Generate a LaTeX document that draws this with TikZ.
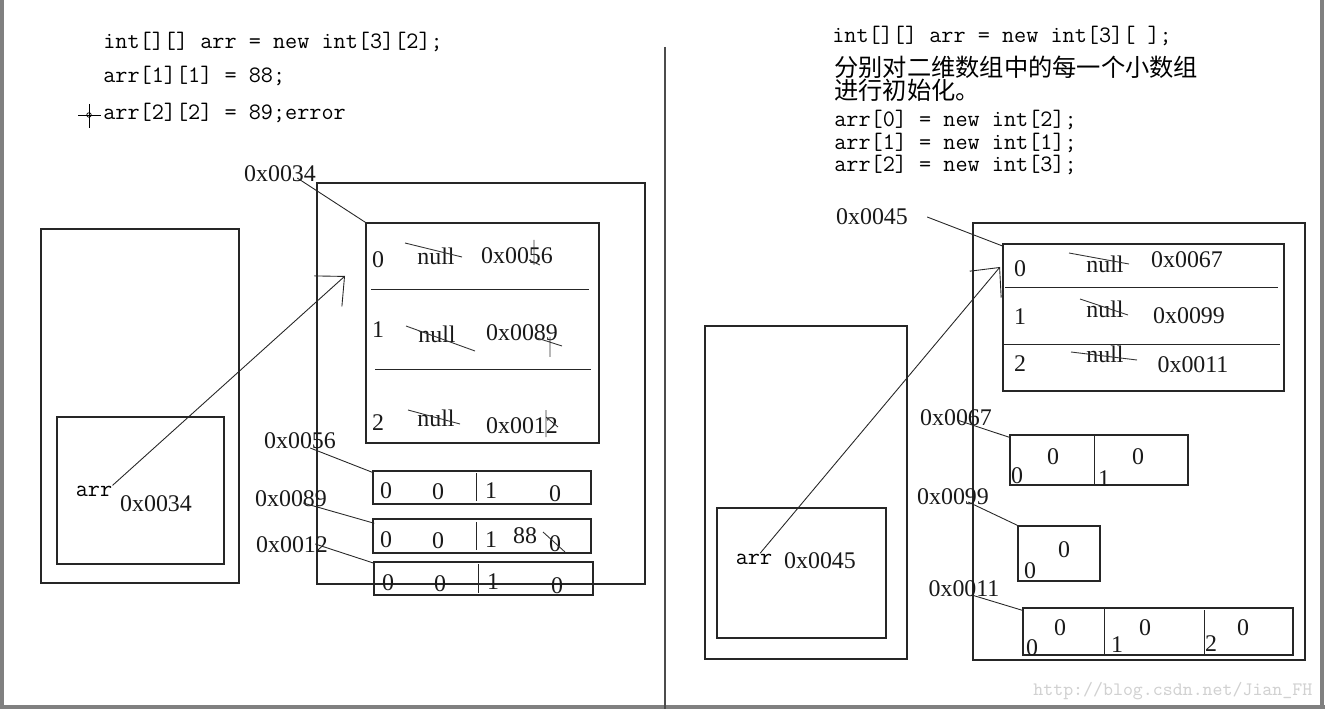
\documentclass[tikz,border=0pt]{standalone}
\usepackage{fontspec}
\setmainfont{Liberation Serif}
\newfontfamily\codefont{Latin Modern Mono}
\newfontfamily\cjkfont{Noto Sans CJK SC}
\usetikzlibrary{arrows.meta,fit,calc}

\begin{document}
\begin{tikzpicture}[x=0.02cm, y=-0.02cm,
    box/.style={draw=black!85, line width=0.8pt, inner sep=0pt, fit={#1}},
    num/.style={font=\fontsize{13.6}{16}\selectfont, inner sep=0pt, text=black!90},
    code/.style={font=\codefont\fontsize{13.4}{15}\selectfont, anchor=base west, inner sep=0pt},
    cjk/.style={font=\cjkfont\fontsize{13.8}{16}\selectfont, anchor=base west, inner sep=0pt},
    link/.style={draw=black!85, line width=0.5pt},
    ptr/.style={link, -{Straight Barb[length=0.44cm, width=0.82cm]}},
    scrawl/.style={black!80, line width=0.5pt},
    rim/.style={draw=black!50, line width=1.8pt}]
    \useasboundingbox (0,0) rectangle (1325,709);
    \fill[white] (0,0) rectangle (1325,709);

    % window edges and middle line
    \draw[rim] (2,0) -- (2,707) -- (1325,707);
    \draw[rim] (1322,0) -- (1322,707);
    \draw[black!70, line width=1.1pt] (665,47) -- (665,709);

    % left: code
    \node[code] (c1) at (103,49) {int[][] arr = new int[3][2];};
    \node[code] (c2) at (103,83) {arr[1][1] = 88;};
    \node[code] (c3) at (103,120) {arr[2][2] = 89;error};
    \draw[black, line width=0.5pt] (78,115) -- (101,115);
    \draw[black, line width=0.5pt] (89,104) -- (89,128);
    \draw[black, line width=0.4pt] (89,115) circle (1.3pt);

    % left: stack
    \node[box={(41,229) (239,583)}] (stackL) {};
    \node[box={(57,417) (224,564)}] (frameL) {};
    \node[code, anchor=center] (arrL) at (94,491) {arr};
    \node[num] (vL) at (156,504) {0x0034};

    % left: heap
    \node[box={(317,183) (645,584)}] (heapL) {};
    \node[box={(366,223) (599,443)}] (tblL) {};
    \draw[link] (371,289) -- (589,289);
    \draw[link] (375,369) -- (591,369);
    \node[num] (rL0) at (378,260) {0};
    \node[num] (rL1) at (378,330) {1};
    \node[num] (rL2) at (378,423) {2};
    \node[num] (nL0) at (436,256) {null};
    \node[num] (nL1) at (437,334) {null};
    \node[num] (nL2) at (436,418) {null};
    \node[num] (pL0) at (517,256) {0x0056};
    \node[num] (pL1) at (522,333) {0x0089};
    \node[num] (pL2) at (522,426) {0x0012};
    \draw[scrawl] (405,243) -- (462,257);
    \draw[scrawl] (406,326) -- (475,351);
    \draw[scrawl] (408,410) -- (460,424);
    \draw[scrawl] (534,240) -- (534,265) (529,260) -- (540,265);
    \draw[scrawl] (550,337) -- (550,357) (537,338) -- (562,346);
    \draw[scrawl] (546,410) -- (546,437) (546,417) -- (558,427);

    \node[num] (a34) at (280,174) {0x0034};
    \draw[link] ($(a34.east)+(-19,4)$) -- (tblL.north west);
    \coordinate (tipL) at (345,276);
    \draw[ptr] (arrL.north east) -- (tipL);

    % left: small arrays
    \node[box={(373,471) (591,504)}] (sa56) {};
    \draw[link] (476,473) -- (476,501);
    \node[num] (i56a) at (386,491) {0};
    \node[num] (v56a) at (438,492) {0};
    \node[num] (i56b) at (491,491) {1};
    \node[num] (v56b) at (555,494) {0};

    \node[box={(373,519) (591,553)}] (sa89) {};
    \draw[link] (476,522) -- (476,550);
    \node[num] (i89a) at (386,540) {0};
    \node[num] (v89a) at (438,541) {0};
    \node[num] (i89b) at (491,540) {1};
    \node[num] (n88) at (525,536) {88};
    \node[num] (v89b) at (555,544) {0};
    \draw[scrawl] (543,532) -- (565,552);

    \node[box={(374,562) (593,595)}] (sa12) {};
    \draw[link] (478,564) -- (478,593);
    \node[num] (i12a) at (388,583) {0};
    \node[num] (v12a) at (440,584) {0};
    \node[num] (i12b) at (493,582) {1};
    \node[num] (v12b) at (557,586) {0};

    \node[num] (a56) at (300,441) {0x0056};
    \node[num] (a89) at (291,499) {0x0089};
    \node[num] (a12) at (292,545) {0x0012};
    \draw[link] ($(a56.east)+(-26,7)$) -- ($(sa56.north west)+(0,2)$);
    \draw[link] ($(a89.east)+(-24,4)$) -- ($(sa89.north west)+(2,5)$);
    \draw[link] ($(a12.east)+(-13,-1)$) -- ($(sa12.north west)+(1,2)$);

    % right: code
    \node[code] (d1) at (832,43) {int[][] arr = new int[3][ ];};
    \node[cjk] (d2) at (834,77) {分别对二维数组中的每一个小数组};
    \node[cjk] (d3) at (834,100) {进行初始化。};
    \node[code] (d4) at (834,127) {arr[0] = new int[2];};
    \node[code] (d5) at (834,150) {arr[1] = new int[1];};
    \node[code] (d6) at (834,172) {arr[2] = new int[3];};

    % right: stack
    \node[box={(705,326) (907,659)}] (stackR) {};
    \node[box={(717,508) (886,638)}] (frameR) {};
    \node[code, anchor=center] (arrR) at (754,559) {arr};
    \node[num] (vR) at (820,561) {0x0045};

    % right: heap
    \node[box={(973,223) (1305,660)}] (heapR) {};
    \node[box={(1003,244) (1284,391)}] (tblR) {};
    \draw[link] (1005,287) -- (1278,287);
    \draw[link] (1003,344) -- (1280,344);
    \node[num] (rR0) at (1020,269) {0};
    \node[num] (rR1) at (1020,317) {1};
    \node[num] (rR2) at (1020,364) {2};
    \node[num] (nR0) at (1105,264) {null};
    \node[num] (nR1) at (1105,309) {null};
    \node[num] (nR2) at (1105,354) {null};
    \node[num] (pR0) at (1187,260) {0x0067};
    \node[num] (pR1) at (1189,316) {0x0099};
    \node[num] (pR2) at (1193,365) {0x0011};
    \draw[scrawl] (1069,253) -- (1129,264);
    \draw[scrawl] (1080,299) -- (1128,315);
    \draw[scrawl] (1071,352) -- (1137,360);

    \node[num] (a45) at (872,217) {0x0045};
    \draw[link] ($(a45.east)+(19,0)$) -- ($(tblR.north west)+(1,3)$);
    \coordinate (tipR) at (1000,267);
    \draw[ptr] ($(arrR.north)+(6,0)$) -- (tipR);

    % right: small arrays
    \node[box={(1010,435) (1188,485)}] (sa67) {};
    \draw[link] (1094,435) -- (1094,485);
    \node[num] (v67a) at (1053,457) {0};
    \node[num] (v67b) at (1138,457) {0};
    \node[num] (i67a) at (1017,476) {0};
    \node[num] (i67b) at (1104,479) {1};

    \node[box={(1018,526) (1100,581)}] (sa99) {};
    \node[num] (v99a) at (1064,550) {0};
    \node[num] (i99a) at (1030,571) {0};

    \node[box={(1023,608) (1293,655)}] (sa11) {};
    \draw[link] (1104,608) -- (1104,655);
    \draw[link] (1204,610) -- (1204,655);
    \node[num] (v11a) at (1060,628) {0};
    \node[num] (v11b) at (1145,628) {0};
    \node[num] (v11c) at (1243,628) {0};
    \node[num] (i11a) at (1032,648) {0};
    \node[num] (i11b) at (1117,645) {1};
    \node[num] (i11c) at (1211,644) {2};

    \node[num] (a67) at (956,418) {0x0067};
    \node[num] (a99) at (953,497) {0x0099};
    \node[num] (a11) at (964,589) {0x0011};
    \draw[link] ($(a67.east)+(-35,2)$) -- ($(sa67.north west)+(0,3)$);
    \draw[link] ($(a99.east)+(-21,5)$) -- (sa99.north west);
    \draw[link] ($(a11.east)+(-28,6)$) -- ($(sa11.north west)+(0,3)$);

    % watermark
    \node[code, text=black!18, font=\codefont\fontsize{10.8}{12}\selectfont] (wm) at (1033,695) {http://blog.csdn.net/Jian\_FH};
\end{tikzpicture}
\end{document}
